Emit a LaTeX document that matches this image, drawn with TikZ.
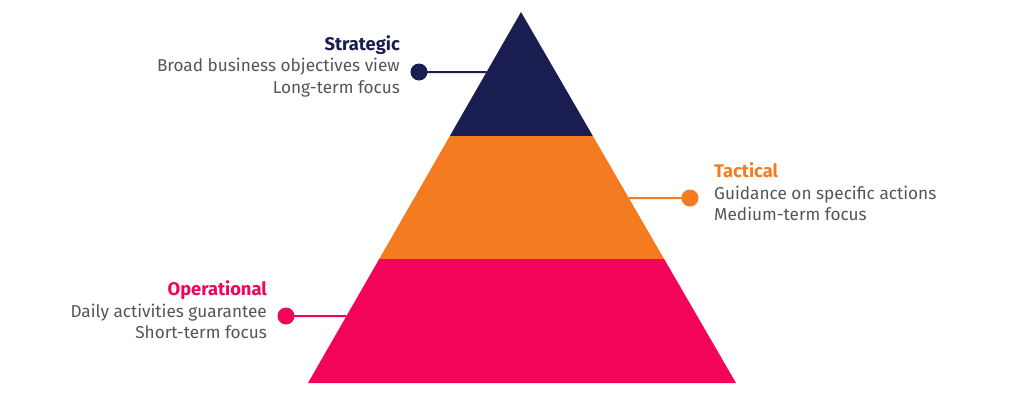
\documentclass[tikz,border=0pt]{standalone}
\usepackage{fontspec}
\setmainfont{Fira Sans}
\usetikzlibrary{calc}
\definecolor{navy}{HTML}{1A1D50}
\definecolor{orng}{HTML}{F47B20}
\definecolor{pnk}{HTML}{F2045A}
\definecolor{txtgrey}{HTML}{555555}
\newcommand{\ttlfont}{\fontsize{18.3}{21.5}\selectfont\bfseries}
\begin{document}
\begin{tikzpicture}[x=1pt,y=-1pt,
  dot/.style={circle,fill=#1,inner sep=0pt,minimum size=17pt},
  link/.style={draw=#1,line width=2pt},
  lbl/.style={text=txtgrey,font=\fontsize{17.2}{21.5}\selectfont,inner sep=0pt}]
\useasboundingbox (0,0) rectangle (1024,408);
% pyramid
\coordinate (apex) at (521,12);
\coordinate (bl) at (308,383);
\coordinate (br) at (736,383);
\coordinate (l1) at ($(apex)!{124/371}!(bl)$);
\coordinate (r1) at ($(apex)!{124/371}!(br)$);
\coordinate (l2) at ($(apex)!{247/371}!(bl)$);
\coordinate (r2) at ($(apex)!{247/371}!(br)$);
\fill[navy] (apex) -- (r1) -- (l1) -- cycle;
\fill[orng] (l1) -- (r1) -- (r2) -- (l2) -- cycle;
\fill[pnk] (l2) -- (r2) -- (br) -- (bl) -- cycle;
% edge anchors
\coordinate (es) at ($(apex)!{60/371}!(bl)$);
\coordinate (et) at ($(apex)!{186/371}!(br)$);
\coordinate (eo) at ($(apex)!{304/371}!(bl)$);
% dots
\node[dot=navy] (ds) at (419,72) {};
\node[dot=orng] (dt) at (690,198) {};
\node[dot=pnk] (do) at (286,316) {};
\draw[link=navy] (ds.center) -- (es);
\draw[link=orng] (dt.center) -- (et);
\draw[link=pnk] (do.center) -- (eo);
% labels
\node[lbl,anchor=east,align=right] (ts) at (400,66) {{\color{navy}\ttlfont Strategic}\\Broad business objectives view\\Long-term focus};
\node[lbl,anchor=west,align=left] (tt) at (714,192) {{\color{orng}\ttlfont Tactical}\\Guidance on specific actions\\Medium-term focus};
\node[lbl,anchor=east,align=right] (to) at (267,310) {{\color{pnk}\ttlfont Operational}\\Daily activities guarantee\\Short-term focus};
\end{tikzpicture}
\end{document}
